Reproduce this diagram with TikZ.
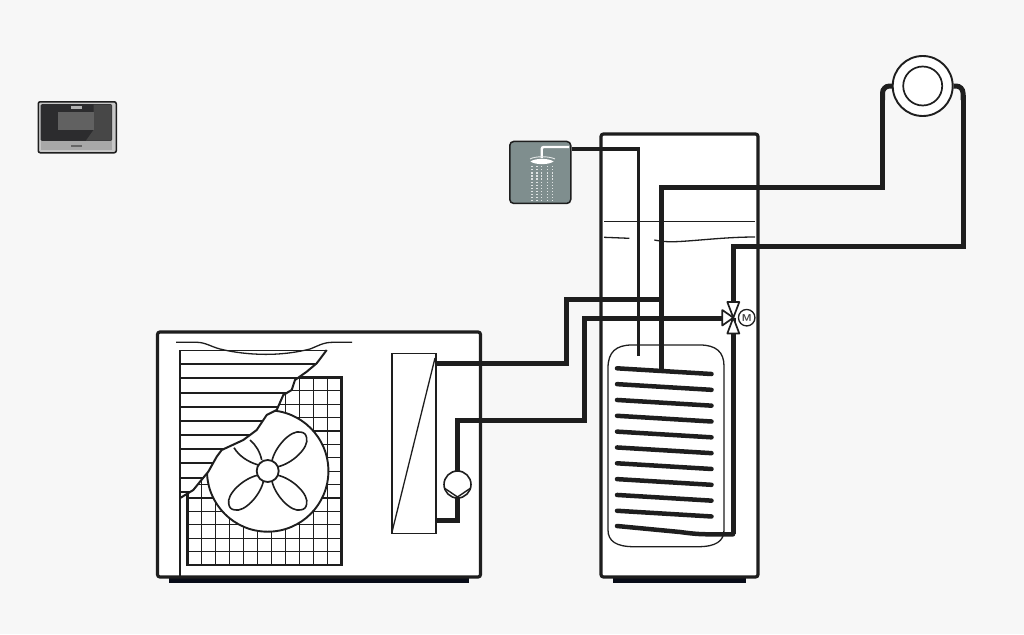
\documentclass[tikz,border=0pt]{standalone}
\usepackage{tikz}
\usetikzlibrary{calc,positioning}
\definecolor{bgColor}{RGB}{247,247,247}
\definecolor{drawColor}{RGB}{30,30,30}
\definecolor{baseColor}{RGB}{8,12,24}
\definecolor{showerColor}{RGB}{127,142,142}
\definecolor{remoteColor}{RGB}{44,44,46}
\definecolor{remoteGrey}{RGB}{168,168,168}
\tikzset{
  casing/.style={draw=drawColor,fill=white,line width=3.2pt,rounded corners=2.5pt},
  basebar/.style={fill=baseColor,draw=none},
  pipe/.style={draw=drawColor,line width=5pt,line join=miter},
  thinpipe/.style={draw=drawColor,line width=3.4pt,line join=miter},
  thinline/.style={draw=drawColor,line width=1.3pt},
  finline/.style={draw=drawColor,line width=2pt},
  gridline/.style={draw=drawColor,line width=1.2pt},
  bladeline/.style={draw=drawColor,line width=1.6pt,fill=white},
  symbolbox/.style={draw=drawColor,fill=white,line width=1.6pt,inner sep=0pt,outer sep=0pt},
  coilline/.style={draw=drawColor,line width=4.5pt,line cap=round,line join=round},
  valvewedge/.style={draw=drawColor,fill=white,line width=1.7pt,line join=round}
}
\newcommand{\tearline}{(180.7,497.7) -- (193.3,490) -- (200,481.7) -- (208.3,471.7) -- (216.7,456.7) -- (221.7,450) -- (243.3,440) -- (256.7,430) -- (266.7,415) -- (276.7,410) -- (283.3,395) -- (291.7,390) -- (295,380) -- (306.7,371.7) -- (316.7,363.3) -- (326.7,350)}
\begin{document}
\begin{tikzpicture}[x=1pt,y=-1pt]
\path[use as bounding box,fill=bgColor] (0,0) rectangle (1024,634);
% outdoor unit
\path[basebar] (169,576) rectangle (469,583);
\node[casing,minimum width=323pt,minimum height=245pt,inner sep=0pt,outer sep=0pt,anchor=north west] (outdoor) at (157.5,332) {};
\foreach \xpos in {0,...,11}
  \draw[gridline] ({187.3+14.03*\xpos},377.3) -- ({187.3+14.03*\xpos},565);
\foreach \ypos in {0,...,14}
  \draw[gridline] (187.3,{377.3+13.41*\ypos}) -- (341.7,{377.3+13.41*\ypos});
\draw[draw=drawColor,line width=2.8pt] (187.3,377.3) rectangle (341.7,565);
\node[circle,draw=drawColor,fill=white,line width=1.9pt,minimum size=121.4pt,inner sep=0pt] (fan) at (267.7,471) {};
\begin{scope}
\path[clip] (180,350) -- (180,497.7) -- \tearline -- cycle;
\path[fill=white] (170,340) rectangle (345,510);
\foreach \ypos in {0,...,10}
  \draw[finline] (180,{350+14.17*\ypos}) -- (345,{350+14.17*\ypos});
\end{scope}
\draw[finline,line join=round] \tearline;
\draw[draw=drawColor,line width=2.4pt] (180,350) -- (180,577);
\draw[thinline] (176,342.3) -- (197,342.3) .. controls (205,342.3) and (212,347) .. (220,349) .. controls (240,354) and (275,358) .. (310,349) .. controls (318,346) and (323,342.3) .. (333,342.3) -- (352,342.3);
% fan blades
\foreach \ang in {45,-45,-135}
  \draw[bladeline,shift={(fan.center)},rotate=\ang] (10,-4) .. controls (22,-12) and (46,-13) .. (51,-4) .. controls (53,-1) and (53,1) .. (51,4) .. controls (46,13) and (22,12) .. (10,4);
\draw[bladeline,fill=none] (250,440) .. controls (256,445) and (260,452) .. (261.7,460);
\draw[bladeline,fill=none] (234,447.7) .. controls (239,456) and (248,462) .. (258.3,465);
\node[circle,draw=drawColor,fill=white,line width=1.8pt,minimum size=22pt,inner sep=0pt] (fanhub) at (fan.center) {};
% heat exchanger and pump
\node[symbolbox,minimum width=44.3pt,minimum height=180pt,anchor=north west] (exchanger) at (391.7,353.3) {};
\draw[thinline] (exchanger.south west) -- (435,358);
\coordinate (exchtop) at (436,363);
\coordinate (exchlow) at (436,520.5);
\node[circle,symbolbox,minimum size=27pt] (pump) at (457.5,484.5) {};
\draw[draw=drawColor,line width=1.4pt] (445,488.5) -- (457.5,497) -- (470,488.5);
% tank
\path[basebar] (613,576) rectangle (746,583);
\node[casing,minimum width=157pt,minimum height=443pt,inner sep=0pt,outer sep=0pt,anchor=north west] (tank) at (601,134) {};
\draw[thinline] (604,221.7) -- (755,221.7);
\draw[thinline] (604,237.3) -- (629.3,238.3);
\draw[thinline] (654.3,240) .. controls (662,241.5) and (668,242) .. (675,241.7) .. controls (695,241) and (725,237) .. (755,237);
\draw[draw=drawColor,fill=white,line width=1.3pt] (608,368) .. controls (608,352) and (616,345) .. (632,345) -- (700,345) .. controls (716,345) and (724,352) .. (724,366) -- (724,530) .. controls (724,541) and (716,546.7) .. (698,546.7) -- (634,546.7) .. controls (616,546.7) and (608,541) .. (608,530) -- cycle;
% coil
\foreach \row in {0,...,9}
  \draw[coilline] (617,{368.3+15.83*\row}) -- (711.5,{374+15.83*\row});
\draw[coilline] (617,526) -- (680,532) .. controls (695,534) and (700,534.3) .. (712,534.3) -- (733,534.3);
% pipes
\node[circle,draw=drawColor,fill=white,line width=1.9pt,minimum size=60pt,inner sep=0pt] (radiator) at (922.7,86) {};
\node[circle,draw=drawColor,fill=white,line width=1.7pt,minimum size=39pt,inner sep=0pt] (radiatorin) at (radiator.center) {};
\node[draw=drawColor,fill=showerColor,line width=1.5pt,rounded corners=4pt,minimum width=61pt,minimum height=62pt,inner sep=0pt,anchor=north west] (shower) at (509,140.7) {};
\coordinate (valve) at (733.3,317.7);
\draw[pipe] (exchtop) -- (566,363) -- (566,299) -- (662,299);
\draw[pipe] (pump.north) -- (457.5,420.5) -- (584,420.5) -- (584,318) -- (724,318);
\draw[pipe] (exchlow) -- (457.5,520.5) -- (pump.south);
\draw[thinpipe] (shower.east |- 0,149) -- (638.5,149) -- (638.5,356);
\draw[pipe] (661,370) -- (661,187) -- (882.5,187) -- (882.5,94);
\draw[pipe,rounded corners=7pt] (882.5,100) -- (882.5,86) -- (radiator.west);
\draw[pipe,rounded corners=7pt] (radiator.east) -- (963,86) -- (963,100);
\draw[pipe] (963,95) -- (963,246) -- (733.3,246) -- (733.3,302);
\draw[pipe] (valve) -- (733.3,534.3);
% mixing valve
\draw[valvewedge] (valve) -- (727.3,302) -- (739.3,302) -- cycle;
\draw[valvewedge] (valve) -- (727.3,333.5) -- (739.3,333.5) -- cycle;
\draw[valvewedge] (valve) -- (722.3,310) -- (722.3,325.5) -- cycle;
\node[circle,draw=drawColor,fill=white,line width=1.3pt,minimum size=16.5pt,inner sep=0pt,font=\fontsize{10}{10}\sffamily\bfseries,text=drawColor!85] (motor) at (746.7,317.7) {M};
% shower
\draw[draw=white,line width=2.4pt,rounded corners=2pt] (569,147) -- (541.7,147) -- (541.7,158);
\path[fill=white] (530.5,161.5) .. controls (535,158) and (549,158) .. (553.5,161.5) .. controls (549,165) and (535,165) .. (530.5,161.5) -- cycle;
\draw[draw=white!80!showerColor,line width=0.9pt] (530,159) .. controls (535,156) and (549,156) .. (555,159);
\foreach \xpos in {532,537,541.7,547.7,552.7}
  \draw[draw=white!75!showerColor,line width=1.2pt,dash pattern=on 1.3pt off 1.8pt] (\xpos,166) -- (\xpos,201);
% remote control
\node[draw=drawColor,fill=white!78!black,line width=1.5pt,rounded corners=2pt,minimum width=78pt,minimum height=51pt,inner sep=0pt,anchor=north west] (remote) at (37.5,101) {};
\path[fill=remoteColor,rounded corners=1.5pt] (40.5,104) rectangle (112,141);
\path[fill=remoteGrey] (40.5,141) rectangle (112,150);
\path[fill=black!72] (93.5,104.5) -- (111.5,104.5) -- (111.5,140.5) -- (86,140.5) -- (93.5,130) -- cycle;
\path[fill=black!62] (58,111.7) rectangle (93.5,130);
\path[fill=white!70!black] (71,105.8) rectangle (82,108.5);
\path[fill=black!60] (71,145) rectangle (82,146.5);
\end{tikzpicture}
\end{document}
